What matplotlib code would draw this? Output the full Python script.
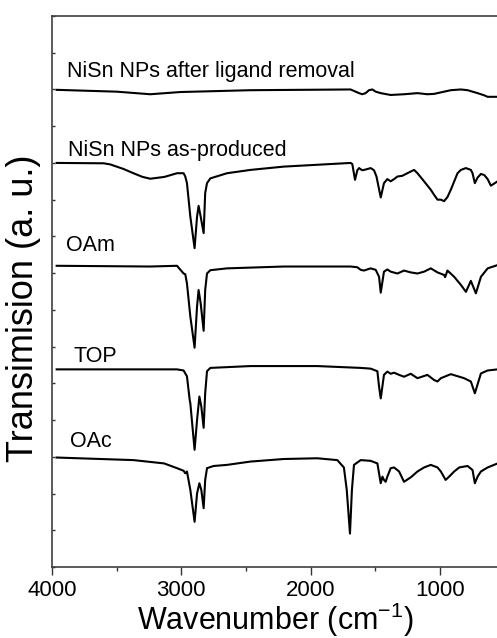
import matplotlib
matplotlib.use("Agg")
import matplotlib.pyplot as plt
from matplotlib.ticker import MultipleLocator

plt.rcParams['font.family'] = ['Liberation Sans', 'DejaVu Sans']
plt.rcParams['mathtext.default'] = 'regular'

# FTIR spectra (wavenumber in cm-1, offset transmission)
removal_wn = [3964, 3499, 3240, 3008, 2465, 1690, 1625, 1600, 1574, 1548, 1522, 1496, 1457,
              1380, 1277, 1173, 1096, 1044, 967, 915, 837, 785, 708, 656, 630, 553]
removal_t = [12.99, 12.94, 12.87, 12.93, 12.98, 13.0, 12.9, 12.87, 12.9, 12.98, 13.0, 12.94, 12.9,
             12.85, 12.87, 12.9, 12.87, 12.88, 12.94, 12.98, 13.0, 12.98, 12.9, 12.84, 12.8, 12.8]

asprod_wn = [3964, 3600, 3550, 3450, 3370, 3300, 3240, 3130, 3033, 2982, 2969, 2956, 2930, 2897,
             2878, 2866, 2850, 2827, 2815, 2801, 2775, 2646, 2465, 2207, 1948, 1690, 1677, 1656,
             1638, 1625, 1600, 1574, 1535, 1509, 1490, 1457, 1432, 1406, 1380, 1354, 1328, 1290,
             1251, 1199, 1173, 1122, 1070, 1044, 1018, 992, 967, 941, 915, 863, 837, 798, 760,
             747, 729, 708, 682, 656, 630, 605, 553]
asprod_t = [11.0, 10.99, 10.96, 10.84, 10.72, 10.62, 10.57, 10.62, 10.72, 10.72, 10.63, 10.45,
            9.54, 8.68, 9.54, 9.83, 9.54, 9.09, 10.18, 10.45, 10.58, 10.72, 10.81, 10.9, 10.95,
            11.0, 10.97, 10.54, 10.8, 10.86, 10.8, 10.82, 10.86, 10.8, 10.63, 10.06, 10.45, 10.56,
            10.5, 10.56, 10.63, 10.65, 10.72, 10.81, 10.72, 10.5, 10.27, 10.13, 10.0, 10.0, 9.96,
            10.07, 10.27, 10.72, 10.81, 10.86, 10.81, 10.72, 10.45, 10.6, 10.7, 10.67, 10.56,
            10.38, 10.5]

oam_wn = [3964, 3240, 3033, 2982, 2969, 2956, 2930, 2897, 2878, 2866, 2850, 2827, 2815, 2801,
          2775, 2646, 2207, 1690, 1638, 1612, 1587, 1535, 1496, 1470, 1457, 1432, 1406, 1380,
          1328, 1277, 1225, 1173, 1122, 1070, 1018, 967, 959, 941, 889, 837, 798, 760, 721, 682,
          630, 553]
oam_t = [8.2, 8.18, 8.2, 7.99, 7.97, 7.72, 6.82, 5.97, 7.09, 7.54, 7.18, 6.43, 7.54, 7.99,
         8.08, 8.13, 8.18, 8.18, 8.16, 8.09, 8.07, 8.13, 8.09, 7.9, 7.47, 8.04, 8.1, 8.04,
         7.99, 8.07, 8.02, 7.99, 8.04, 8.13, 8.02, 7.95, 7.89, 8.07, 7.9, 7.68, 7.49, 7.79, 7.45,
         7.9, 8.13, 8.22]

top_wn = [3964, 3033, 2982, 2956, 2935, 2930, 2897, 2878, 2860, 2845, 2827, 2815, 2801, 2775,
          2465, 1948, 1612, 1535, 1483, 1470, 1457, 1432, 1406, 1380, 1354, 1315, 1277, 1225,
          1173, 1096, 1044, 1018, 992, 915, 812, 760, 729, 721, 682, 630, 553]
top_t = [5.38, 5.38, 5.35, 5.19, 4.55, 4.46, 3.19, 4.0, 4.64, 4.37, 3.79, 4.73, 5.33, 5.42,
         5.47, 5.47, 5.42, 5.4, 5.33, 4.91, 4.59, 5.23, 5.32, 5.26, 5.29, 5.23, 5.18, 5.26,
         5.14, 5.23, 5.09, 5.05, 5.14, 5.25, 5.14, 5.05, 4.73, 4.82, 5.27, 5.35, 5.38]

oac_wn = [3964, 3370, 3133, 3033, 2982, 2969, 2956, 2930, 2897, 2878, 2860, 2845, 2827, 2815,
          2801, 2750, 2646, 2465, 2207, 1948, 1793, 1742, 1720, 1695, 1680, 1664, 1612, 1535,
          1483, 1470, 1457, 1444, 1432, 1419, 1406, 1380, 1354, 1315, 1277, 1225, 1173, 1122,
          1070, 1018, 992, 955, 928, 889, 850, 785, 747, 729, 708, 682, 630, 553]
oac_t = [2.98, 2.91, 2.82, 2.69, 2.62, 2.55, 2.6, 2.1, 1.23, 2.0, 2.28, 2.1, 1.6, 2.37,
         2.69, 2.75, 2.78, 2.87, 2.94, 2.96, 2.91, 2.71, 2.1, 0.91, 2.1, 2.78, 2.91, 2.89,
         2.82, 2.55, 2.28, 2.46, 2.37, 2.32, 2.46, 2.69, 2.71, 2.6, 2.32, 2.44, 2.6, 2.71,
         2.78, 2.71, 2.6, 2.37, 2.46, 2.6, 2.71, 2.75, 2.64, 2.28, 2.46, 2.6, 2.71, 2.82]

labels = ["NiSn NPs after ligand removal", "NiSn NPs as-produced", "OAm", "TOP", "OAc"]
label_x = [3886, 3876, 3891, 3837, 3860]
label_y = [13.49, 11.35, 8.74, 5.74, 3.41]

fig = plt.figure(figsize=(4.97, 6.38), dpi=100)
ax = fig.add_axes([52 / 497, 1 - 567 / 638, 1.002 - 52 / 497, 551 / 638])

for wn, t in [(removal_wn, removal_t), (asprod_wn, asprod_t), (oam_wn, oam_t),
              (top_wn, top_t), (oac_wn, oac_t)]:
    ax.plot(wn, t, color='black', lw=1.5)

for lab, lx, ly in zip(labels, label_x, label_y):
    ax.text(lx, ly, lab, fontsize=15.5, ha='left', va='center')

ax.set_xlim(4000, 550)
ax.set_ylim(0, 15)
ax.xaxis.set_major_locator(MultipleLocator(1000))
ax.xaxis.set_minor_locator(MultipleLocator(500))
ax.yaxis.set_major_locator(MultipleLocator(1))
ax.tick_params(axis='x', which='major', direction='out', length=6, width=1,
               labelsize=16, color='#333333', top=False)
ax.tick_params(axis='x', which='minor', direction='out', length=3, width=1, color='#333333')
ax.tick_params(axis='y', which='both', direction='in', length=2, width=1,
               labelleft=False, color='#333333')
for s in ax.spines.values():
    s.set_color('#404040')
    s.set_linewidth(1.2)
ax.spines['right'].set_visible(False)

ax.set_xlabel('Wavenumber (cm$^{-1}$)', fontsize=22, labelpad=0)
ax.set_ylabel('Transimision (a. u.)', fontsize=26)
ax.yaxis.set_label_coords(-0.025, 0.47)

fig.savefig('out.png', dpi=100)
